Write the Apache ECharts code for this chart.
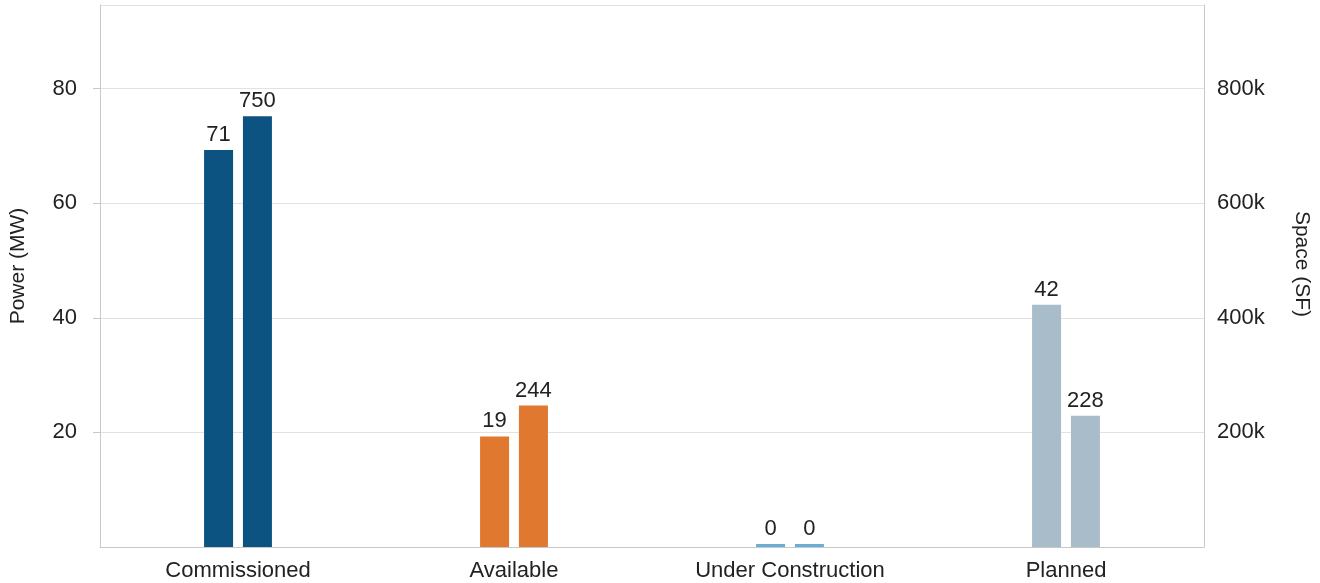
<!DOCTYPE html>
<html>
<head>
<meta charset="utf-8">
<script src="https://cdn.jsdelivr.net/npm/echarts@6/dist/echarts.min.js"></script>
<style>
  html, body { margin: 0; padding: 0; background: #fff; }
  #main { width: 1320px; height: 583px; }
</style>
</head>
<body>
<div id="main"></div>
<script>
// categories and values
const categories = ["Commissioned", "Available", "Under Construction", "Planned"];
const powerMW = [69.3, 19.3, 0, 42.3];
const spaceSF = [752000, 247000, 0, 229000];
// text shown above the bars
const powerLabels = ["71", "19", "0", "42"];
const spaceLabels = ["750", "244", "0", "228"];
const barColors = ["#0d5381", "#e07830", "#6aaed6", "#a8bdc9"];

const chart = echarts.init(document.getElementById("main"));

const textColor = "#222";
const fontFamily = "Liberation Sans, Arial, sans-serif";
const fontSize = 22;

function makeSeries(name, values, labels, axisIndex) {
    return {
        name: name,
        type: "bar",
        yAxisIndex: axisIndex,
        barWidth: 29,
        barGap: "34%",
        barMinHeight: 3,
        data: values.map((v, i) => ({
            value: v,
            itemStyle: { color: barColors[i] }
        })),
        label: {
            show: true,
            position: "top",
            distance: 4,
            color: textColor,
            fontSize: fontSize,
            fontFamily: fontFamily,
            formatter: (p) => labels[p.dataIndex]
        }
    };
}

const option = {
    animation: false,
    grid: { left: 99, right: 116, top: 5, bottom: 36 },
    xAxis: {
        type: "category",
        data: categories,
        axisTick: { show: false },
        axisLine: { lineStyle: { color: "#c8c8c8", width: 1 } },
        axisLabel: { color: textColor, fontSize: fontSize, fontFamily: fontFamily, margin: 13 }
    },
    yAxis: [
        {
            type: "value",
            name: "Power (MW)",
            nameLocation: "middle",
            nameRotate: 90,
            nameGap: 71,
            nameTextStyle: { color: textColor, fontSize: 21, fontFamily: fontFamily, padding: [0, 0, 0, 20] },
            min: 0,
            max: 94.6,
            interval: 20,
            axisLine: { show: true, lineStyle: { color: "#c8c8c8" } },
            axisTick: { show: true, length: 7, lineStyle: { color: "#c8c8c8" } },
            axisLabel: {
                color: textColor, fontSize: fontSize, fontFamily: fontFamily, margin: 23,
                showMinLabel: false, showMaxLabel: false
            },
            splitLine: { lineStyle: { color: "#e2e2e2" } }
        },
        {
            type: "value",
            name: "Space (SF)",
            nameLocation: "middle",
            nameRotate: -90,
            nameGap: 87,
            nameTextStyle: { color: textColor, fontSize: 21, fontFamily: fontFamily, padding: [0, 24, 0, 0] },
            min: 0,
            max: 946000,
            interval: 200000,
            axisLine: { show: true, lineStyle: { color: "#c8c8c8" } },
            axisTick: { show: false },
            axisLabel: {
                color: textColor, fontSize: fontSize, fontFamily: fontFamily, margin: 13,
                showMinLabel: false, showMaxLabel: false,
                formatter: (v) => (v / 1000) + "k"
            },
            splitLine: { show: false }
        }
    ],
    series: [
        makeSeries("Power", powerMW, powerLabels, 0),
        makeSeries("Space", spaceSF, spaceLabels, 1)
    ]
};

chart.setOption(option);
</script>
</body>
</html>
